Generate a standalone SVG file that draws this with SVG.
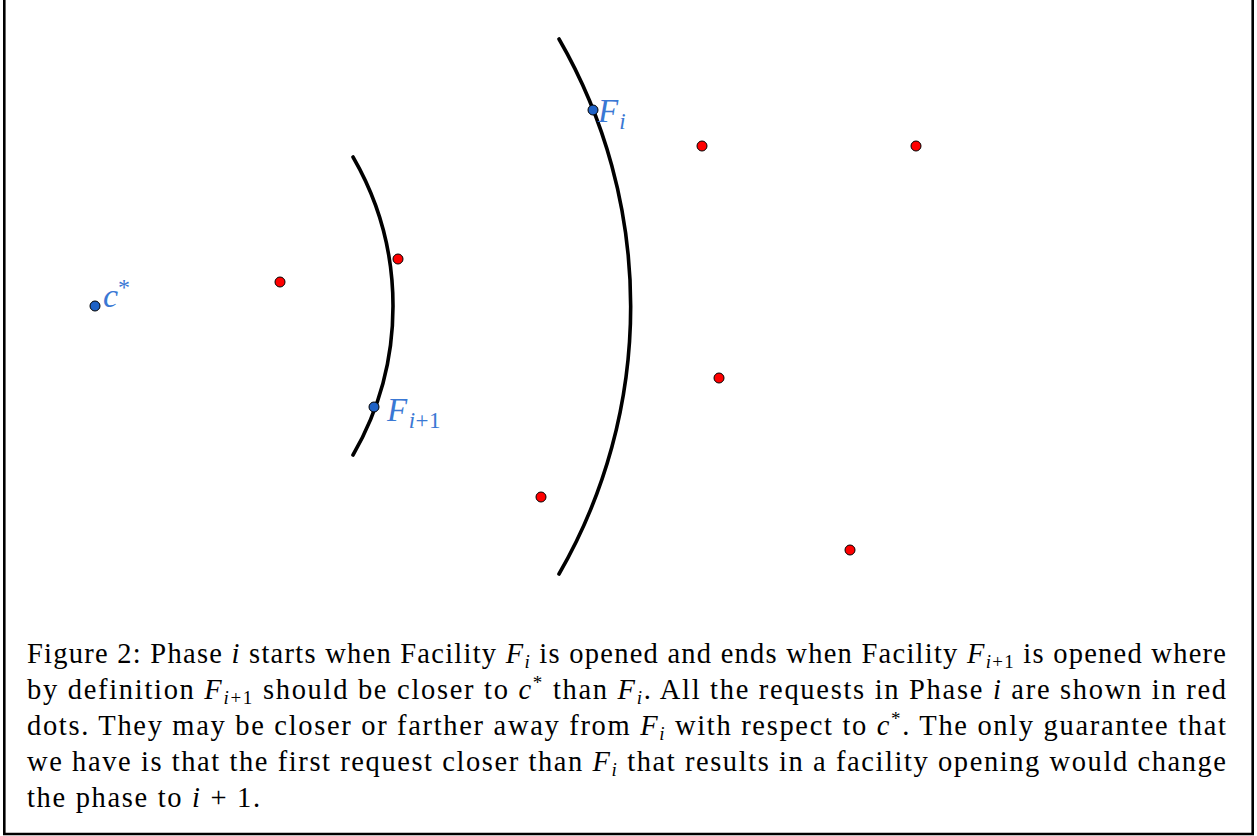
<svg xmlns="http://www.w3.org/2000/svg" width="1257" height="836" viewBox="0 0 1257 836">
<style>
.arc{fill:none;stroke:#000;stroke-width:3.6;stroke-linecap:round}
.red{fill:#f00;stroke:#000;stroke-width:1}
.blue{fill:#1f62c6;stroke:#000;stroke-width:1}
.lbl{font-family:"Liberation Serif",serif;font-style:italic;fill:#3a78d4}
.cap{font-family:"Liberation Serif",serif;font-size:28.5px;fill:#000}
.m{font-style:italic}
.sub{font-style:italic;font-size:19px}
.frame{fill:none;stroke:#000;stroke-width:2.6}
</style>
<rect width="1257" height="836" fill="#fff"/>
<path class="frame" d="M4.3 0 V834 H1252.7 V0"/>
<g id="connectors">
<path class="arc" d="M353 157 A297.5 297.5 0 0 1 353 455"/>
<path class="arc" d="M559 39 A535 535 0 0 1 559 574"/>
</g>
<g id="requests">
<circle class="red" cx="280" cy="282" r="5"/>
<circle class="red" cx="398" cy="259" r="5"/>
<circle class="red" cx="702" cy="146" r="5"/>
<circle class="red" cx="916" cy="146" r="5"/>
<circle class="red" cx="719" cy="378" r="5"/>
<circle class="red" cx="541" cy="497" r="5"/>
<circle class="red" cx="850" cy="550" r="5"/>
</g>
<g id="cstar">
<circle class="blue" cx="95" cy="306" r="5"/>
<text class="lbl" x="103" y="307" font-size="34">c<tspan font-size="24" dy="-12" font-style="normal">*</tspan></text>
</g>
<g id="Fi">
<circle class="blue" cx="593" cy="110" r="5"/>
<text class="lbl" x="598" y="122" font-size="33">F<tspan font-size="23" dx="1" dy="7">i</tspan></text>
</g>
<g id="Fi1">
<circle class="blue" cx="374" cy="407" r="5"/>
<text class="lbl" x="387" y="421" font-size="33" letter-spacing="0.5">F<tspan font-size="23" dx="1" dy="7">i</tspan><tspan font-size="23" font-style="normal">+1</tspan></text>
</g>
<g id="caption">
<text class="cap" x="27" y="663" textLength="1199" lengthAdjust="spacing">Figure 2: Phase <tspan class="m">i</tspan> starts when Facility <tspan class="m">F</tspan><tspan class="sub" dy="5">i</tspan><tspan dy="-5"> is opened and ends when Facility </tspan><tspan class="m">F</tspan><tspan class="sub" dy="5">i</tspan><tspan font-size="19">+1</tspan><tspan dy="-5"> is opened where</tspan></text>
<text class="cap" x="27" y="699" textLength="1199" lengthAdjust="spacing">by definition <tspan class="m">F</tspan><tspan class="sub" dy="5">i</tspan><tspan font-size="19">+1</tspan><tspan dy="-5"> should be closer to </tspan><tspan class="m">c</tspan><tspan font-size="19" dy="-10">*</tspan><tspan dy="10"> than </tspan><tspan class="m">F</tspan><tspan class="sub" dy="5">i</tspan><tspan dy="-5">. All the requests in Phase </tspan><tspan class="m">i</tspan> are shown in red</text>
<text class="cap" x="27" y="735" textLength="1199" lengthAdjust="spacing">dots. They may be closer or farther away from <tspan class="m">F</tspan><tspan class="sub" dy="5">i</tspan><tspan dy="-5"> with respect to </tspan><tspan class="m">c</tspan><tspan font-size="19" dy="-10">*</tspan><tspan dy="10">. The only guarantee that</tspan></text>
<text class="cap" x="27" y="771" textLength="1199" lengthAdjust="spacing">we have is that the first request closer than <tspan class="m">F</tspan><tspan class="sub" dy="5">i</tspan><tspan dy="-5"> that results in a facility opening would change</tspan></text>
<text class="cap" x="27" y="807" textLength="233" lengthAdjust="spacing">the phase to <tspan class="m">i</tspan> + 1.</text>
</g>
</svg>
